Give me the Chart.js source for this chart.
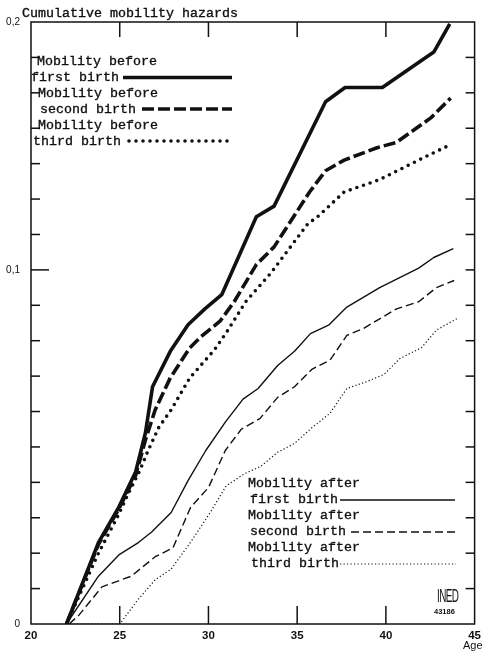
<!DOCTYPE html>
<html>
<head>
<meta charset="utf-8">
<script src="https://cdn.jsdelivr.net/npm/chart.js@4/dist/chart.umd.min.js"></script>
<style>
  html, body { margin: 0; padding: 0; background: #fff; }
  #wrap { position: relative; width: 486px; height: 658px; overflow: hidden; background: #fff; }
  #c { position: absolute; left: 0; top: 0; }
  .t { position: absolute; font-family: "Liberation Mono", monospace; font-size: 13.33px; line-height: 16px; color: #111; white-space: pre; -webkit-text-stroke: 0.35px #111; }
  .s { position: absolute; font-family: "Liberation Sans", sans-serif; color: #111; white-space: pre; }
</style>
</head>
<body>
<div id="wrap">
  <canvas id="c" width="486" height="658"></canvas>
  <div class="t" style="left:22px; top:6px;">Cumulative mobility hazards</div>

  <div class="t" style="left:37px; top:54px;">Mobility before</div>
  <div class="t" style="left:31px; top:70px;">first birth</div>
  <div class="t" style="left:38px; top:86px;">Mobility before</div>
  <div class="t" style="left:40px; top:102px;">second birth</div>
  <div class="t" style="left:38px; top:118px;">Mobility before</div>
  <div class="t" style="left:33px; top:134px;">third birth</div>

  <div class="t" style="left:248px; top:476px;">Mobility after</div>
  <div class="t" style="left:250px; top:492px;">first birth</div>
  <div class="t" style="left:248px; top:508px;">Mobility after</div>
  <div class="t" style="left:250px; top:524px;">second birth</div>
  <div class="t" style="left:248px; top:540px;">Mobility after</div>
  <div class="t" style="left:251px; top:556px;">third birth</div>

  <div class="s" style="left:437px; top:586px; font-size:18px; line-height:20px; transform:scaleX(0.55); transform-origin:left top; letter-spacing:-1px;">INED</div>
  <div class="s" style="left:434px; top:607px; font-size:7.5px; line-height:9px; font-weight:bold;">43186</div>
  <div class="s" style="left:463px; top:639px; font-size:11px; line-height:13px;">Age</div>
</div>
<script>
// ---- data ----
const xTickValues = [20, 25, 30, 35, 40, 45];
const yTickValues = [0, 0.1, 0.17];
const yTickLabels = ['0', '0,1', '0,2'];

const beforeFirstAges   = [22, 23.8, 24.95, 25.9, 26.45, 26.85, 27.85, 28.85, 29.8, 30.75, 32.7, 33.7, 36.6, 37.7, 39.8, 42.7, 43.6];
const beforeFirstValues = [0, 0.023, 0.033, 0.043, 0.054, 0.067, 0.077, 0.0845, 0.089, 0.093, 0.115, 0.118, 0.1475, 0.1515, 0.1515, 0.1615, 0.1695];

const beforeSecondAges   = [22, 23.8, 24.95, 25.9, 26.45, 27, 27.85, 28.95, 29.55, 30.65, 31.45, 32.7, 33.7, 35.7, 36.6, 37.65, 39.5, 40.6, 42.55, 43.65];
const beforeSecondValues = [0, 0.0225, 0.0325, 0.042, 0.052, 0.0605, 0.0695, 0.078, 0.081, 0.0855, 0.091, 0.1015, 0.1065, 0.122, 0.128, 0.131, 0.1345, 0.136, 0.143, 0.1485];

const beforeThirdAges   = [22, 23.8, 24.85, 25.5, 26.15, 26.6, 27.2, 27.9, 28.95, 30.35, 31.1, 32.1, 32.8, 33.5, 35.6, 36.15, 37.65, 39.65, 42.45, 43.7];
const beforeThirdValues = [0, 0.02, 0.03, 0.037, 0.0435, 0.049, 0.0555, 0.0605, 0.0695, 0.0775, 0.083, 0.091, 0.095, 0.099, 0.113, 0.115, 0.122, 0.1255, 0.1325, 0.1355];

const afterFirstAges   = [22, 23.8, 24.95, 26.05, 26.8, 27.9, 28.85, 29.85, 30.95, 31.95, 32.8, 33.9, 34.85, 35.75, 36.8, 37.8, 39.65, 41.85, 42.7, 43.8];
const afterFirstValues = [0, 0.0135, 0.0195, 0.023, 0.026, 0.0315, 0.0405, 0.049, 0.057, 0.0635, 0.0665, 0.073, 0.077, 0.082, 0.0845, 0.0895, 0.095, 0.1005, 0.1035, 0.106];

const afterSecondAges   = [22.15, 22.7, 24, 25.65, 27, 28, 29, 30, 30.95, 31.85, 32.9, 33.9, 34.85, 35.85, 36.85, 37.8, 38.75, 40.6, 41.85, 42.85, 43.85];
const afterSecondValues = [0, 0.0025, 0.0105, 0.0135, 0.019, 0.0215, 0.033, 0.0385, 0.049, 0.055, 0.058, 0.064, 0.067, 0.072, 0.0745, 0.0815, 0.0835, 0.089, 0.091, 0.095, 0.097];

const afterThirdAges   = [22, 25, 26.05, 27, 27.9, 29.05, 30.1, 31, 32.05, 32.95, 33.9, 34.85, 35.85, 36.85, 37.8, 38.95, 39.9, 40.8, 42, 42.85, 44.1];
const afterThirdValues = [0, 0, 0.007, 0.0125, 0.0155, 0.0235, 0.0315, 0.039, 0.0425, 0.0445, 0.0485, 0.051, 0.0555, 0.0595, 0.0665, 0.0685, 0.0705, 0.075, 0.078, 0.083, 0.0865];

// ---- build ----
const INK = '#111';
function pts(ages, vals) { return ages.map((a, i) => ({ x: a, y: vals[i] })); }

const styles = [
  { borderWidth: 3.6, borderDash: [], borderCapStyle: 'butt' },
  { borderWidth: 3.6, borderDash: [12, 4], borderCapStyle: 'butt' },
  { borderWidth: 3.6, borderDash: [0, 7], borderCapStyle: 'round' },
  { borderWidth: 1.4, borderDash: [], borderCapStyle: 'butt' },
  { borderWidth: 1.4, borderDash: [8, 4], borderCapStyle: 'butt' },
  { borderWidth: 1.2, borderDash: [1.2, 2.3], borderCapStyle: 'butt' }
];
const series = [
  ['Mobility before first birth', beforeFirstAges, beforeFirstValues],
  ['Mobility before second birth', beforeSecondAges, beforeSecondValues],
  ['Mobility before third birth', beforeThirdAges, beforeThirdValues],
  ['Mobility after first birth', afterFirstAges, afterFirstValues],
  ['Mobility after second birth', afterSecondAges, afterSecondValues],
  ['Mobility after third birth', afterThirdAges, afterThirdValues]
];
// legend sample segments (layout): [x1, x2, y]
const sampleSegs = [
  [123, 232, 77.5], [142, 232, 109], [129, 232, 141],
  [340, 455, 500], [351, 456, 532], [340, 456, 564]
];

const datasets = series.map((s, i) => Object.assign({
  label: s[0], data: pts(s[1], s[2]), borderColor: INK, backgroundColor: INK,
  pointRadius: 0, tension: 0, fill: false, borderJoinStyle: 'round'
}, styles[i]));

function seg(ctx, x1, y1, x2, y2) { ctx.beginPath(); ctx.moveTo(x1, y1); ctx.lineTo(x2, y2); ctx.stroke(); }

const framePlugin = {
  id: 'frame',
  afterDatasetsDraw(chart) {
    const { ctx, chartArea: a, scales } = chart;
    const x = scales.x, y = scales.y;
    ctx.save();
    ctx.strokeStyle = INK; ctx.lineWidth = 1.5; ctx.setLineDash([]);
    ctx.strokeRect(a.left, a.top, a.right - a.left, a.bottom - a.top);
    for (let i = 1; i < 17; i++) {
      const py = y.getPixelForValue(i / 100);
      seg(ctx, a.left, py, a.left + (i === 10 ? 18 : 9), py);
      seg(ctx, a.right - 9, py, a.right, py);
    }
    xTickValues.slice(1, -1).forEach(t => {
      const px = x.getPixelForValue(t);
      seg(ctx, px, a.bottom, px, a.bottom - 18);
      seg(ctx, px, a.top, px, a.top + 15);
    });
    // legend samples
    chart.data.datasets.forEach((ds, i) => {
      const s = sampleSegs[i];
      ctx.lineWidth = ds.borderWidth;
      ctx.lineCap = ds.borderCapStyle;
      ctx.setLineDash(ds.borderDash);
      seg(ctx, s[0], s[2], s[1], s[2]);
    });
    ctx.restore();
  }
};

new Chart(document.getElementById('c'), {
  type: 'line',
  data: { datasets },
  options: {
    responsive: false, animation: false, devicePixelRatio: 1,
    layout: { padding: { left: 0, right: 8, top: 22, bottom: 0 } },
    plugins: { legend: { display: false }, tooltip: { enabled: false }, title: { display: false } },
    scales: {
      x: {
        type: 'linear', min: 20, max: 45,
        afterBuildTicks: sc => { sc.ticks = xTickValues.map(v => ({ value: v })); },
        afterFit: sc => { sc.height = 34; },
        grid: { display: false, drawTicks: false }, border: { display: false },
        ticks: { padding: 5, color: INK, font: { family: 'Liberation Sans', size: 11.5, weight: 'bold' }, maxRotation: 0, autoSkip: false }
      },
      y: {
        type: 'linear', min: 0, max: 0.17,
        afterBuildTicks: sc => { sc.ticks = yTickValues.map(v => ({ value: v })); },
        afterFit: sc => { sc.width = 31; },
        grid: { display: false, drawTicks: false }, border: { display: false },
        ticks: {
          padding: 11, color: INK, font: { family: 'Liberation Sans', size: 10 }, autoSkip: false,
          callback: v => { const k = yTickValues.findIndex(t => Math.abs(t - v) < 1e-6); return k >= 0 ? yTickLabels[k] : ''; }
        }
      }
    }
  },
  plugins: [framePlugin]
});
</script>
</body>
</html>
